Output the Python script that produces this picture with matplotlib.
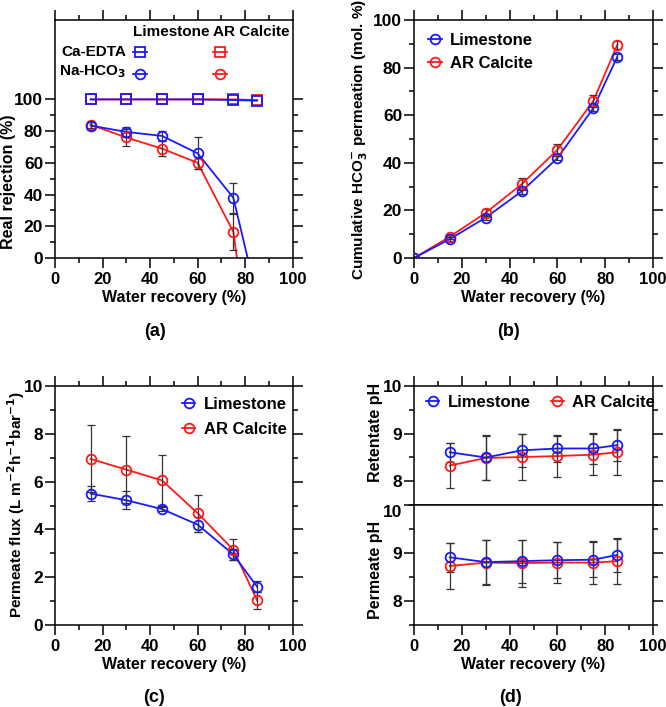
import numpy as np
import matplotlib
matplotlib.use('Agg')
import matplotlib.pyplot as plt
from matplotlib.ticker import MultipleLocator, FixedLocator

plt.rcParams['font.family'] = ['Liberation Sans', 'DejaVu Sans']
plt.rcParams['font.weight'] = 'bold'
plt.rcParams['font.size'] = 11.5
plt.rcParams['axes.labelweight'] = 'bold'
plt.rcParams['mathtext.default'] = 'bf'

# water recovery (%)
rec = [15, 30, 45, 60, 75, 85]
rec_b = [0, 15, 30, 45, 60, 75, 85]

# (a) real rejection (%)
edta_lime = [100, 100, 100, 100, 99.6, 99.2]
edta_calc = [100, 100, 100, 100, 100, 99.6]
hco3_lime = [83.5, 79.5, 77, 66, 38, -25]
hco3_lime_err = [2.5, 3, 3, 10, 9.5, 0]
hco3_calc = [84, 76, 69, 60, 16.5, -93]
hco3_calc_err = [2, 5.5, 4.5, 4, 11.5, 0]

# (b) cumulative HCO3- permeation (mol. %)
perm_lime = [0, 8, 17, 28, 42, 63, 84.5]
perm_lime_err = [0, 1, 1, 1, 1, 1, 1.2]
perm_calc = [0, 9, 19, 31, 45.5, 66, 89.5]
perm_calc_err = [0, 1, 1.5, 2.5, 2.5, 2.5, 1.5]

# (c) permeate flux (L m-2 h-1 bar-1)
flux_lime = [5.5, 5.22, 4.85, 4.2, 2.95, 1.6]
flux_lime_err = [0.3, 0.38, 0.1, 0.3, 0.25, 0.22]
flux_calc = [6.95, 6.5, 6.05, 4.68, 3.15, 1.03]
flux_calc_err = [1.4, 1.4, 1.05, 0.78, 0.45, 0.37]

# (d) pH
ret_lime = [8.61, 8.5, 8.65, 8.69, 8.69, 8.76]
ret_lime_err = [0.2, 0.47, 0.35, 0.28, 0.32, 0.33]
ret_calc = [8.33, 8.49, 8.51, 8.53, 8.56, 8.61]
ret_calc_err = [0.47, 0.47, 0.49, 0.43, 0.43, 0.47]
per_lime = [8.91, 8.81, 8.83, 8.85, 8.86, 8.96]
per_lime_err = [0.3, 0.46, 0.45, 0.38, 0.37, 0.36]
per_calc = [8.73, 8.8, 8.79, 8.8, 8.8, 8.83]
per_calc_err = [0.48, 0.47, 0.49, 0.43, 0.44, 0.47]

BLUE = '#1a1aff'
RED = '#ff1a1a'
ECOL = '#333333'
LEG = {'size': 12, 'weight': 'bold'}


def style(ax, top=True, bottom=True):
    for s in ax.spines.values():
        s.set_linewidth(1.1)
    ax.tick_params(which='both', direction='out', width=1.1,
                   top=top, bottom=bottom, left=True, right=True)
    ax.tick_params(which='major', length=7)
    ax.tick_params(which='minor', length=3.5)
    ax.tick_params(axis='x', labelsize=12, pad=3)
    ax.tick_params(axis='y', labelsize=12.5, pad=1.5)
    ax.xaxis.set_major_locator(MultipleLocator(20))
    ax.xaxis.set_minor_locator(MultipleLocator(10))
    ax.set_xlim(0, 100)


def series(ax, x, y, err, col, marker='o'):
    ax.plot(x, y, color=col, lw=1.3, zorder=2)
    ax.errorbar(x, y, yerr=err, fmt='none', ecolor=ECOL, elinewidth=0.9,
                capsize=3, capthick=0.9, zorder=3)
    ax.plot(x, y, ls='none', marker=marker, ms=7, mfc='none', mec=col,
            mew=1.3, zorder=4)


def handles(ax):
    h1, = ax.plot([], [], color=BLUE, lw=1.3, marker='o', ms=7, mfc='none', mec=BLUE, mew=1.3)
    h2, = ax.plot([], [], color=RED, lw=1.3, marker='o', ms=7, mfc='none', mec=RED, mew=1.3)
    return [h1, h2]


fig = plt.figure(figsize=(6.66, 7.07), dpi=100)

# ---- (a)
ax = fig.add_axes([0.0826, 0.635, 0.357, 0.3366])
ax.plot(rec, edta_calc, color=RED, lw=1.3, marker='s', ms=7, mfc='none',
        mec=RED, mew=1.3, zorder=2)
ax.plot(rec, edta_lime, color=BLUE, lw=1.3, marker='s', ms=7, mfc='none',
        mec=BLUE, mew=1.3, zorder=3)
series(ax, rec, hco3_calc, hco3_calc_err, RED)
series(ax, rec, hco3_lime, hco3_lime_err, BLUE)
style(ax)
ax.set_ylim(0, 150)
ax.yaxis.set_major_locator(FixedLocator([0, 20, 40, 60, 80, 100]))
ax.yaxis.set_minor_locator(FixedLocator([10, 30, 50, 70, 90]))
ax.set_xlabel('Water recovery (%)', labelpad=2)
ax.set_ylabel('Real rejection (%)')
ax.yaxis.set_label_coords(-0.165, 0.319)
# table-like legend
ax.text(0.487, 0.95, 'Limestone', transform=ax.transAxes, ha='center', va='center', fontsize=11)
ax.text(0.824, 0.95, 'AR Calcite', transform=ax.transAxes, ha='center', va='center', fontsize=11)
ax.text(0.30, 0.866, 'Ca-EDTA', transform=ax.transAxes, ha='right', va='center', fontsize=11)
ax.text(0.30, 0.785, 'Na-HCO$_3$', transform=ax.transAxes, ha='right', va='center', fontsize=11)
for xm, col in [(0.357, BLUE), (0.693, RED)]:
    for ym, mk in [(0.866, 's'), (0.775, 'o')]:
        ax.plot([xm - 0.03, xm + 0.03], [ym, ym], color=col, lw=1.3,
                transform=ax.transAxes, clip_on=False)
        ax.plot([xm], [ym], marker=mk, ms=7, mfc='none', mec=col, mew=1.3,
                transform=ax.transAxes, clip_on=False)

# ---- (b)
ax = fig.add_axes([0.6216, 0.635, 0.359, 0.3366])
series(ax, rec_b, perm_calc, perm_calc_err, RED)
series(ax, rec_b, perm_lime, perm_lime_err, BLUE)
style(ax)
ax.set_ylim(0, 100)
ax.yaxis.set_major_locator(MultipleLocator(20))
ax.yaxis.set_minor_locator(MultipleLocator(10))
ax.set_xlabel('Water recovery (%)', labelpad=2)
ax.set_ylabel('Cumulative HCO$_3^{-}$ permeation (mol. %)', fontsize=11)
ax.yaxis.set_label_coords(-0.184, 0.5)
ax.legend(handles(ax), ['Limestone', 'AR Calcite'], loc='upper left',
          bbox_to_anchor=(0.06, 0.945), frameon=False, handlelength=0.8,
          handletextpad=0.5, labelspacing=0.45, borderaxespad=0, borderpad=0,
          prop=LEG)

# ---- (c)
ax = fig.add_axes([0.0826, 0.116, 0.357, 0.338])
series(ax, rec, flux_calc, flux_calc_err, RED)
series(ax, rec, flux_lime, flux_lime_err, BLUE)
style(ax)
ax.set_ylim(0, 10)
ax.yaxis.set_major_locator(MultipleLocator(2))
ax.yaxis.set_minor_locator(MultipleLocator(1))
ax.set_xlabel('Water recovery (%)', labelpad=2)
ax.set_ylabel('Permeate flux (L m$^{-2}$h$^{-1}$bar$^{-1}$)', fontsize=11)
ax.yaxis.set_label_coords(-0.118, 0.502)
ax.legend(handles(ax), ['Limestone', 'AR Calcite'], loc='upper right',
          bbox_to_anchor=(0.975, 0.955), frameon=False, handlelength=0.8,
          handletextpad=0.5, labelspacing=0.6, borderaxespad=0, borderpad=0,
          prop=LEG)

# ---- (d)
axu = fig.add_axes([0.6216, 0.2857, 0.359, 0.168])
axl = fig.add_axes([0.6216, 0.116, 0.359, 0.1697], sharex=axu)
series(axu, rec, ret_calc, ret_calc_err, RED)
series(axu, rec, ret_lime, ret_lime_err, BLUE)
series(axl, rec, per_calc, per_calc_err, RED)
series(axl, rec, per_lime, per_lime_err, BLUE)
style(axu, top=True, bottom=False)
style(axl, top=False, bottom=True)
plt.setp(axu.get_xticklabels(), visible=False)
for a in (axu, axl):
    a.set_ylim(7.5, 10)
    a.yaxis.set_major_locator(MultipleLocator(1))
    a.yaxis.set_minor_locator(MultipleLocator(0.5))
fig.canvas.draw()
for lab in axl.get_yticklabels():
    if lab.get_text() == '10':
        lab.set_va('top')
axl.set_xlabel('Water recovery (%)', labelpad=2)
axu.set_ylabel('Retentate pH')
axu.yaxis.set_label_coords(-0.13, 0.61)
axl.set_ylabel('Permeate pH')
axl.yaxis.set_label_coords(-0.13, 0.46)
axu.legend(handles(axu), ['Limestone', 'AR Calcite'], loc='upper left',
           bbox_to_anchor=(0.05, 0.93), ncol=2, frameon=False, handlelength=0.8,
           handletextpad=0.5, columnspacing=1.2, borderaxespad=0, borderpad=0,
           prop=LEG)

# panel labels
fig.text(155 / 666, 1 - 332 / 707, '(a)', ha='center', va='center', fontsize=13)
fig.text(508 / 666, 1 - 332 / 707, '(b)', ha='center', va='center', fontsize=13)
fig.text(154 / 666, 1 - 697 / 707, '(c)', ha='center', va='center', fontsize=13)
fig.text(511 / 666, 1 - 697 / 707, '(d)', ha='center', va='center', fontsize=13)

fig.savefig('out.png', dpi=100)
